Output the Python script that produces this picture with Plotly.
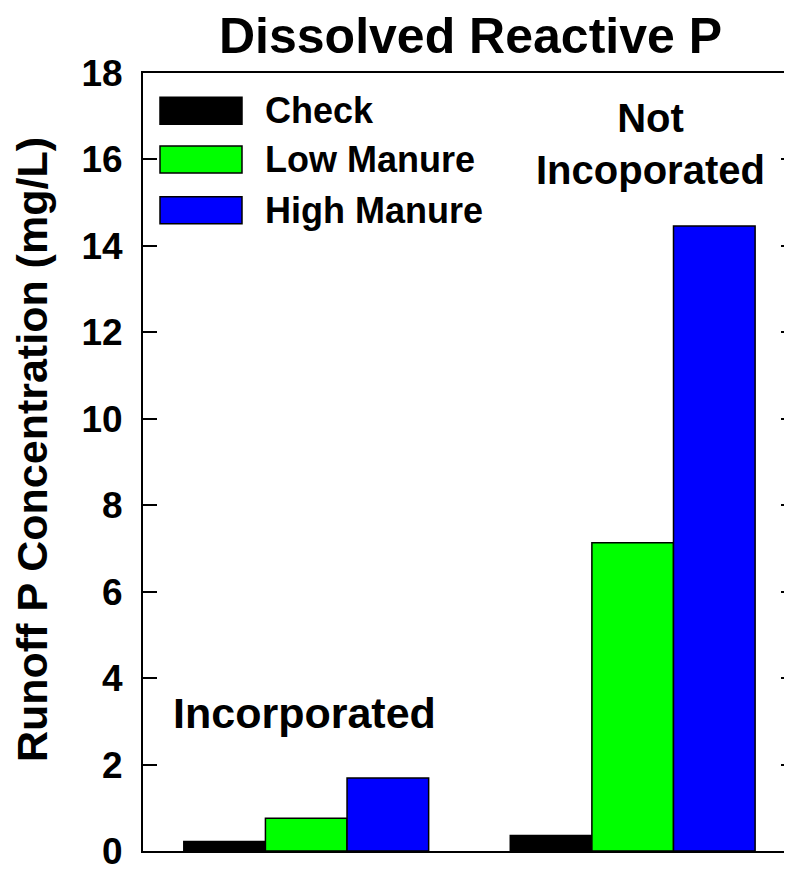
import plotly.graph_objects as go

categories = ["Incorporated", "Not Incorporated"]
series_names = ["Check", "Low Manure", "High Manure"]
check_vals = [0.22, 0.36]
low_vals = [0.76, 7.13]
high_vals = [1.69, 14.46]
series_colors = ["#000000", "#00FF00", "#0000FF"]
y_ticks = [0, 2, 4, 6, 8, 10, 12, 14, 16, 18]

OFF = 8  # page body margin
W, H = 784, 864
L, R, T, B = 135, 0, 65, 17
PW, PH = W - L - R, H - T - B

def px_x(page_x):
    return (page_x - OFF - L) / PW

def px_y(page_y):
    return (H - B - (page_y - OFF)) / PH

FONT = "Liberation Sans, Arial, Helvetica, sans-serif"

fig = go.Figure()
for name, vals, col in zip(series_names, [check_vals, low_vals, high_vals], series_colors):
    fig.add_trace(go.Bar(x=categories, y=vals, name=name, marker_color=col,
                         marker_line_color="black", marker_line_width=1.5,
                         showlegend=False))
# invisible trace to carry the right-hand tick axis
fig.add_trace(go.Scatter(x=categories, y=[None, None], yaxis="y2", showlegend=False,
                         hoverinfo="skip", mode="markers"))

fig.update_layout(
    width=W, height=H,
    margin=dict(l=L, r=R, t=T, b=B, pad=0),
    plot_bgcolor="white", paper_bgcolor="white",
    barmode="group", bargap=0.25, bargroupgap=0,
    font=dict(family=FONT, color="black"),
    xaxis=dict(range=[-0.5, 1.488], showticklabels=False, ticks="",
               showline=True, linecolor="black", linewidth=2, mirror=True,
               showgrid=False, zeroline=False, fixedrange=True),
    yaxis=dict(range=[0, 18], tickvals=y_ticks, ticks="inside", ticklen=14,
               tickwidth=1.5, tickcolor="black", showline=True, linecolor="black",
               linewidth=2, showgrid=False, zeroline=False,
               tickfont=dict(size=37, family=FONT, weight="bold"),
               ticklabelstandoff=11, ticklabeloverflow="allow"),
    yaxis2=dict(range=[0, 18], tickvals=y_ticks, overlaying="y", side="right",
                ticks="inside", ticklen=11, tickwidth=2, tickcolor="black",
                showticklabels=False, showline=False, showgrid=False, zeroline=False),
)

# Title
fig.add_annotation(text="Dissolved Reactive P", xref="paper", yref="paper",
                   x=px_x(470), y=px_y(36), showarrow=False,
                   font=dict(size=50, family=FONT, weight="bold"),
                   xanchor="center", yanchor="middle")
# Y label
fig.add_annotation(text="Runoff P Concentration (mg/L)", xref="paper", yref="paper",
                   x=px_x(32), y=px_y(452), showarrow=False, textangle=-90,
                   font=dict(size=43, family=FONT, weight="bold"),
                   xanchor="center", yanchor="middle")
# Group labels
fig.add_annotation(text="Incorporated", xref="paper", yref="paper",
                   x=px_x(304), y=px_y(716),
                   showarrow=False, font=dict(size=43, family=FONT, weight="bold"),
                   xanchor="center", yanchor="middle")
fig.add_annotation(text="Not<br>Incoporated", xref="paper", yref="paper",
                   x=px_x(650), y=px_y(144), showarrow=False,
                   font=dict(size=40, family=FONT, weight="bold"),
                   xanchor="center", yanchor="middle")

# Legend drawn manually
row_centers = [111, 160, 211]
for name, col, cy in zip(series_names, series_colors, row_centers):
    fig.add_shape(type="rect", xref="paper", yref="paper",
                  x0=px_x(160), x1=px_x(242), y0=px_y(cy - 13.5), y1=px_y(cy + 13.5),
                  fillcolor=col, line=dict(color="black", width=1.5))
    fig.add_annotation(text=name, xref="paper", yref="paper", x=px_x(263), y=px_y(cy),
                       showarrow=False, xanchor="left", yanchor="middle",
                       font=dict(size=36, family=FONT, weight="bold"))

fig.write_html("out.html")
